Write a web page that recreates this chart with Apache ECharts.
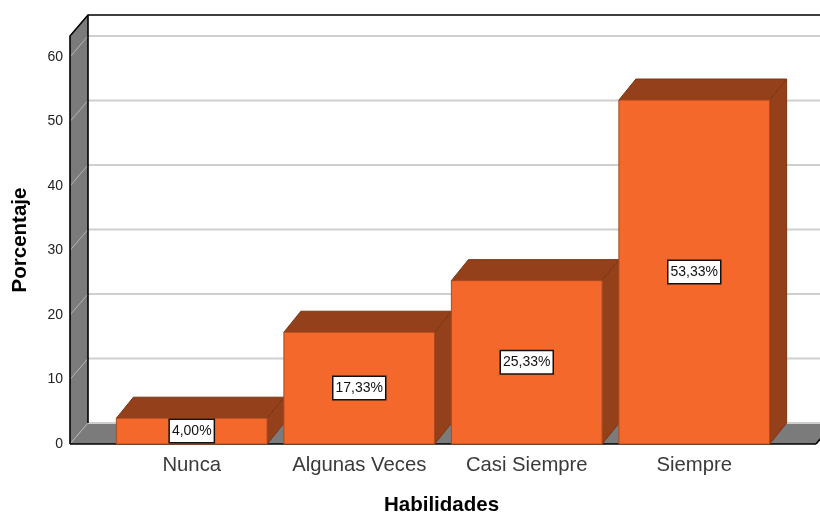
<!DOCTYPE html>
<html>
<head>
<meta charset="utf-8">
<style>html,body{margin:0;padding:0;background:#fff}#c{width:820px;height:512px}</style>
<script src="https://cdn.jsdelivr.net/npm/echarts@6/dist/echarts.min.js"></script>
</head>
<body>
<div id="c"></div>
<script>
var categories = ['Nunca', 'Algunas Veces', 'Casi Siempre', 'Siempre'];
var percentages = [4.00, 17.33, 25.33, 53.33];
var gridValues = [0, 10, 20, 30, 40, 50, 60];
var FONT = '"Liberation Sans", Arial, sans-serif';
var DX = 18, DY = 21, BX = 17, BY = 21, PAD = 38;

function fmt(v) { return v.toFixed(2).replace('.', ',') + '%'; }

var chart = echarts.init(document.getElementById('c'), null, { renderer: 'canvas' });
chart.setOption({
  animation: false,
  backgroundColor: '#ffffff',
  grid: { left: 108, top: 36, width: 670, height: 408, containLabel: false, outerBoundsMode: 'none' },
  xAxis: {
    type: 'category',
    data: categories,
    name: 'Habilidades',
    nameLocation: 'middle',
    nameGap: 51,
    nameTextStyle: { fontFamily: FONT, fontSize: 20.5, fontWeight: 'bold', color: '#000', padding: [0, 3, 0, 0] },
    axisLine: { show: false },
    axisTick: { show: false },
    axisLabel: { interval: 0, fontFamily: FONT, fontSize: 20.3, color: '#3a3a3a', margin: 11, hideOverlap: false }
  },
  yAxis: {
    type: 'value',
    min: 0,
    max: 63.26,
    interval: 10,
    name: 'Porcentaje',
    nameLocation: 'middle',
    nameGap: 77,
    nameTextStyle: { fontFamily: FONT, fontSize: 20.5, fontWeight: 'bold', color: '#000' },
    axisLine: { show: false },
    axisTick: { show: false },
    splitLine: { show: false },
    axisLabel: { fontFamily: FONT, fontSize: 14, color: '#222', margin: 45, showMaxLabel: false, verticalAlign: 'middle', lineHeight: 16, padding: [6, 0, 0, 0] }
  },
  series: [
    {
      type: 'custom',
      coordinateSystem: 'cartesian2d',
      clip: false,
      silent: true,
      z: 1,
      data: [[0, 0]],
      renderItem: function (params, api) {
        var cs = params.coordSys;
        var L = cs.x - PAD, R = cs.x + cs.width + PAD, T = cs.y, B = cs.y + cs.height;
        var ch = [];
        ch.push({ type: 'polygon', shape: { points: [[L, T], [L + DX, T - DY], [L + DX, B - DY], [L, B]] }, style: { fill: '#7b7b7b' } });
        ch.push({ type: 'polygon', shape: { points: [[L, B], [L + DX, B - DY], [R + DX, B - DY], [R, B]] }, style: { fill: '#7b7b7b' } });
        gridValues.forEach(function (v) {
          var y = api.coord([0, v])[1];
          ch.push({ type: 'line', shape: { x1: L + DX, y1: y - DY, x2: R + DX, y2: y - DY }, style: { stroke: '#cfcfcf', lineWidth: 2 } });
          ch.push({ type: 'line', shape: { x1: L, y1: y, x2: L + DX, y2: y - DY }, style: { stroke: '#b4b4b4', lineWidth: 1 } });
        });
        var blk = { stroke: '#000', lineWidth: 1.6 };
        ch.push({ type: 'polyline', shape: { points: [[L, B], [L, T], [L + DX, T - DY], [R + DX, T - DY]] }, style: { stroke: '#000', lineWidth: 1.6, fill: null } });
        ch.push({ type: 'line', shape: { x1: L + DX, y1: T - DY, x2: L + DX, y2: B - DY }, style: blk });
        ch.push({ type: 'line', shape: { x1: L, y1: B, x2: R, y2: B }, style: blk });
        ch.push({ type: 'line', shape: { x1: R, y1: B, x2: R + DX, y2: B - DY }, style: blk });
        return { type: 'group', children: ch };
      }
    },
    {
      type: 'custom',
      coordinateSystem: 'cartesian2d',
      clip: false,
      z: 2,
      data: percentages.map(function (v, i) { return [i, v]; }),
      renderItem: function (params, api) {
        var i = api.value(0), v = api.value(1);
        var top = api.coord([i, v]), base = api.coord([i, 0]);
        var w = api.size([1, 0])[0] * 0.9;
        var l = top[0] - w / 2, r = top[0] + w / 2, t = top[1], b = base[1];
        var edge = '#7a3614';
        return {
          type: 'group',
          children: [
            { type: 'polygon', shape: { points: [[l, t], [l + BX, t - BY], [r + BX, t - BY], [r, t]] }, style: { fill: '#94401a', stroke: edge, lineWidth: 1 } },
            { type: 'polygon', shape: { points: [[r, t], [r + BX, t - BY], [r + BX, b - BY], [r, b]] }, style: { fill: '#94401a', stroke: edge, lineWidth: 1 } },
            { type: 'rect', shape: { x: l, y: t, width: r - l, height: b - t }, style: { fill: '#f4682b', stroke: '#a84a20', lineWidth: 1 } },
            { type: 'text', x: top[0], y: (t + b) / 2, style: {
                text: fmt(v), fontFamily: FONT, fontSize: 14, fill: '#111',
                align: 'center', verticalAlign: 'middle',
                backgroundColor: '#fff', borderColor: '#111', borderWidth: 1.5,
                padding: [4, 2, 4, 2]
              } }
          ]
        };
      }
    }
  ]
});
</script>
</body>
</html>
